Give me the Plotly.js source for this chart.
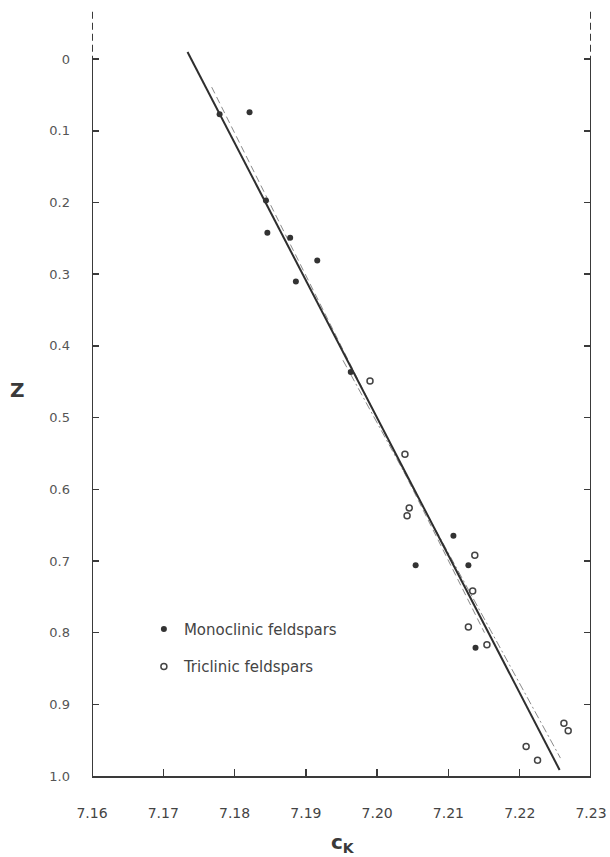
<!DOCTYPE html>
<html>
<head>
<meta charset="utf-8">
<script src="https://cdn.plot.ly/plotly-3.0.1.min.js"></script>
<style>html,body{margin:0;padding:0;background:#fff;}#chart{width:610px;height:857px;}</style>
</head>
<body>
<div id="chart"></div>
<script>
// Monoclinic feldspars (filled circles)
const monoX = [7.1779, 7.1821, 7.1844, 7.1846, 7.1878, 7.1916, 7.1886, 7.1963, 7.2107, 7.2054, 7.2128, 7.2138];
const monoZ = [0.077, 0.074, 0.197, 0.242, 0.249, 0.281, 0.310, 0.4365, 0.665, 0.706, 0.706, 0.821];
// Triclinic feldspars (open circles)
const triX = [7.1990, 7.2039, 7.2045, 7.2042, 7.2137, 7.2134, 7.2128, 7.2154, 7.2209, 7.2225, 7.2262, 7.2268];
const triZ = [0.449, 0.551, 0.626, 0.637, 0.692, 0.742, 0.792, 0.817, 0.959, 0.978, 0.9265, 0.937];
// Regression lines
const fitX = [7.1734, 7.2256];
const fitZ = [-0.01, 0.9916];
const monoFitX = [7.17679, 7.21505];
const monoFitZ = [0.039, 0.80];
const triFitX = [7.19520, 7.22571];
const triFitZ = [0.42, 0.975];
// Ticks
const xTicks = [7.16, 7.17, 7.18, 7.19, 7.20, 7.21, 7.22, 7.23];
const xTickText = ["7.16", "7.17", "7.18", "7.19", "7.20", "7.21", "7.22", "7.23"];
const zTicks = [0, 0.1, 0.2, 0.3, 0.4, 0.5, 0.6, 0.7, 0.8, 0.9, 1.0];
const zTickText = ["0", "0.1", "0.2", "0.3", "0.4", "0.5", "0.6", "0.7", "0.8", "0.9", "1.0"];
const legendNames = ["Monoclinic feldspars", "Triclinic feldspars"];

const ink = '#3a3a3a';
const font = 'DejaVu Sans, Arial, sans-serif';

const traces = [
  {x: monoFitX, y: monoFitZ, mode: 'lines', line: {color: '#8a8a8a', width: 1, dash: '7px,4px'}, showlegend: false, hoverinfo: 'skip'},
  {x: triFitX, y: triFitZ, mode: 'lines', line: {color: '#8a8a8a', width: 1, dash: '8px,3px,2px,3px'}, showlegend: false, hoverinfo: 'skip'},
  {x: fitX, y: fitZ, mode: 'lines', line: {color: '#2e2e2e', width: 2}, showlegend: false, hoverinfo: 'skip'},
  {x: monoX, y: monoZ, mode: 'markers', name: legendNames[0], legendgroup: 'a',
   marker: {symbol: 'circle', size: 6, color: '#333'}},
  {x: triX, y: triZ, mode: 'markers', name: legendNames[1], legendgroup: 'b',
   marker: {symbol: 'circle-open', size: 6, color: '#444', line: {width: 1.5, color: '#444'}}}
];

const layout = {
  width: 610, height: 857,
  margin: {l: 92, r: 19, t: 9, b: 81},
  paper_bgcolor: '#fff', plot_bgcolor: '#fff',
  font: {family: font, color: '#444', size: 13},
  xaxis: {
    range: [7.16, 7.23], tickvals: xTicks, ticktext: xTickText,
    showgrid: false, zeroline: false, showline: true, linecolor: ink, linewidth: 2,
    ticks: 'inside', ticklen: 7, tickwidth: 1.5, tickcolor: ink,
    ticklabelstandoff: 23, tickfont: {family: font, size: 14, color: '#444'}
  },
  yaxis: {
    range: [1.0, -0.07], tickvals: zTicks, ticktext: zTickText,
    showgrid: false, zeroline: false, showline: false,
    ticks: 'inside', ticklen: 7, tickwidth: 1.5, tickcolor: ink, mirror: 'ticks',
    ticklabelstandoff: 21, tickfont: {family: font, size: 13, color: '#555'}
  },
  shapes: [
    {type: 'line', xref: 'x', yref: 'y', x0: 7.16, x1: 7.16, y0: 0, y1: 1.0, line: {color: ink, width: 2}},
    {type: 'line', xref: 'x', yref: 'y', x0: 7.23, x1: 7.23, y0: 0, y1: 1.0, line: {color: ink, width: 2}},
    {type: 'line', xref: 'x', yref: 'y', x0: 7.16, x1: 7.16, y0: -0.066, y1: 0, line: {color: ink, width: 2, dash: '7px,4px'}},
    {type: 'line', xref: 'x', yref: 'y', x0: 7.23, x1: 7.23, y0: -0.066, y1: 0, line: {color: ink, width: 2, dash: '7px,4px'}}
  ],
  showlegend: true,
  legend: {
    x: 0.104, y: 0.213, xanchor: 'left', yanchor: 'top',
    bgcolor: 'rgba(0,0,0,0)', borderwidth: 0,
    traceorder: 'grouped', tracegroupgap: 15,
    font: {family: font, size: 15, color: '#444'}
  },
  annotations: [
    {xref: 'paper', yref: 'paper', x: -0.150, y: 0.503, text: '<b>Z</b>', showarrow: false,
     font: {family: font, size: 20, color: '#3a3a3a'}, xanchor: 'center', yanchor: 'middle'},
    {xref: 'paper', yref: 'paper', x: 0.503, y: -0.087, text: '<b>c<sub>K</sub></b>', showarrow: false,
     font: {family: font, size: 20, color: '#3a3a3a'}, xanchor: 'center', yanchor: 'middle'}
  ]
};

Plotly.newPlot('chart', traces, layout, {displayModeBar: false, staticPlot: true});
</script>
</body>
</html>
